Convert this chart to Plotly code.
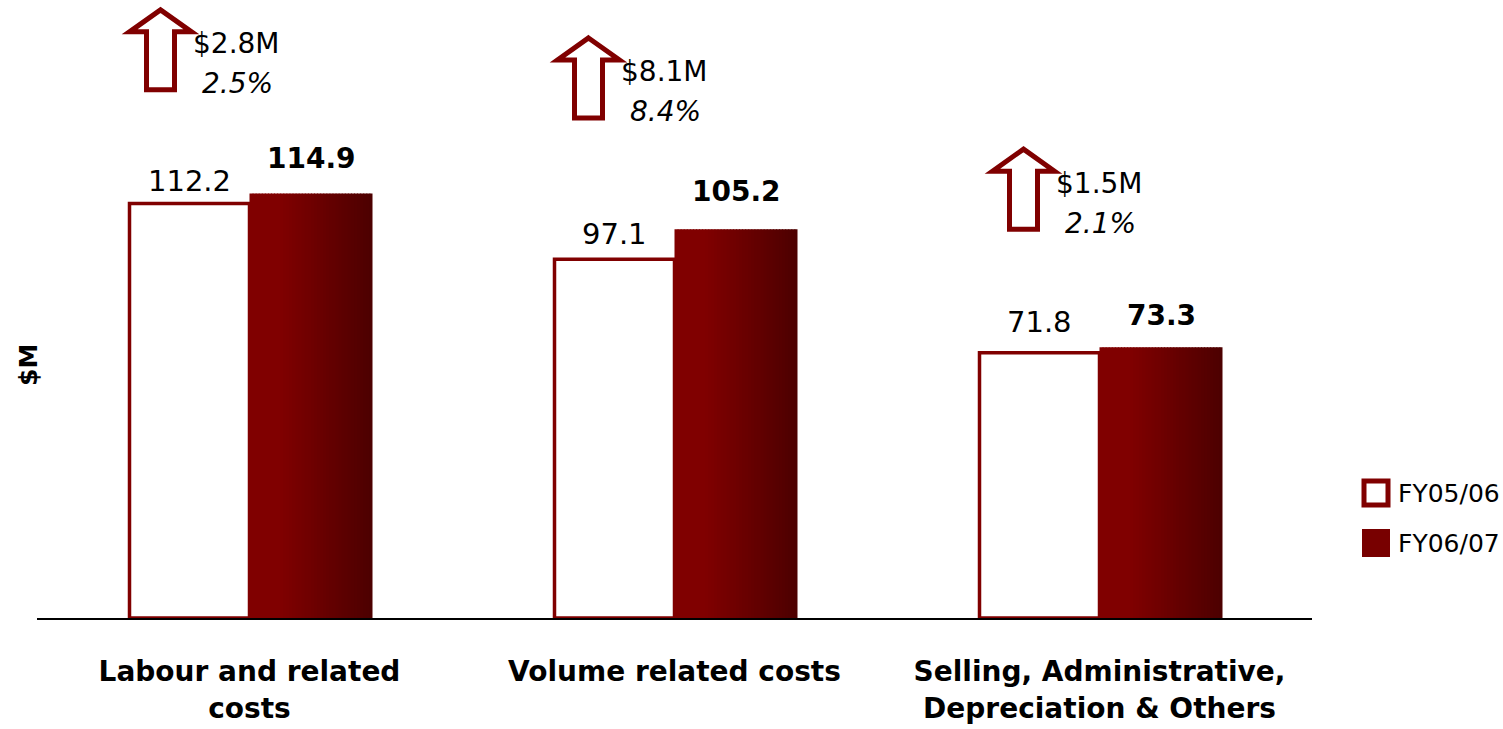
import plotly.graph_objects as go

# ---- data -------------------------------------------------------------
categories = [
    "Labour and related<br>costs",
    "Volume related costs",
    "Selling, Administrative,<br>Depreciation & Others",
]
series_names = ["FY05/06", "FY06/07"]
fy0506 = [112.2, 97.1, 71.8]
fy0607 = [114.9, 105.2, 73.3]
change_amount = ["$2.8M", "$8.1M", "$1.5M"]
change_pct = ["2.5%", "8.4%", "2.1%"]

# ---- layout constants -------------------------------------------------
W, H = 1503, 729
M_L, M_R, M_T, M_B = 37, 191, 0, 111
PLOT_W = W - M_L - M_R
PLOT_H = H - M_T - M_B
PX_PER_UNIT = 3.695
CAT_PX = PLOT_W / len(categories)

FONT = "DejaVu Sans"
DARK_RED = "#800000"

W_PREV = 120 / CAT_PX          # bar widths in category units
W_CURR = 123 / CAT_PX

# label lift (px) above each bar, arrow placement per group
prev_lift = [3, 6, 12]
curr_lift = [16, 19, 13]
arrow_level = [165.4, 157.8, 127.7]   # height of arrow tip, in $M units
arrow_dx = [-89, -86, -76]           # px offset of arrow tip from group centre

x_idx = list(range(len(categories)))

fig = go.Figure()

# FY05/06: outlined white bars
fig.add_trace(go.Bar(
    x=x_idx, y=fy0506, name=series_names[0],
    width=W_PREV, offset=-W_PREV,
    marker=dict(color="white", line=dict(color=DARK_RED, width=3.5)),
    showlegend=False,
))

# FY06/07: filled bars with a left-to-right darkening gradient,
# built from thin slices of the same values
N_SLICES = 40
slice_w = W_CURR / N_SLICES


def shade(t):
    c0, c1 = (0x80, 0x00, 0x00), (0x4c, 0x00, 0x00)
    k = 0.0 if t < 0.25 else (t - 0.25) / 0.75
    r, g, b = (round(a + (b_ - a) * k) for a, b_ in zip(c0, c1))
    return f"rgb({r},{g},{b})"


for i in range(N_SLICES):
    t = (i + 0.5) / N_SLICES
    w = slice_w * (1.0 if i == N_SLICES - 1 else 1.3)
    fig.add_trace(go.Bar(
        x=x_idx, y=fy0607, name=series_names[1],
        width=w, offset=i * slice_w,
        marker=dict(color=shade(t), line=dict(width=0)),
        showlegend=False,
    ))

annotations = []
shapes = []

# value labels
for i in x_idx:
    annotations.append(dict(
        x=i, y=fy0506[i], xref="x", yref="y", text=f"{fy0506[i]:.1f}",
        showarrow=False, xanchor="center", yanchor="bottom",
        xshift=-60, yshift=prev_lift[i],
        font=dict(family=FONT, size=29, color="black"),
    ))
    annotations.append(dict(
        x=i, y=fy0607[i], xref="x", yref="y", text=f"<b>{fy0607[i]:.1f}</b>",
        showarrow=False, xanchor="center", yanchor="bottom",
        xshift=61.5, yshift=curr_lift[i],
        font=dict(family=FONT, size=28, color="black"),
    ))

# change arrows with amount and percentage
for i in x_idx:
    dx = arrow_dx[i]
    pts = [(0, -3), (31, -25), (14, -25), (14, -83), (-14, -83), (-14, -25), (-31, -25)]
    path = "M " + " L ".join(f"{dx + px},{py}" for px, py in pts) + " Z"
    shapes.append(dict(
        type="path", xref="x", yref="y",
        xsizemode="pixel", ysizemode="pixel",
        xanchor=i, yanchor=arrow_level[i],
        path=path, fillcolor="white",
        line=dict(color=DARK_RED, width=5),
    ))
    annotations.append(dict(
        x=i, y=arrow_level[i], xref="x", yref="y", text=change_amount[i],
        showarrow=False, xanchor="center", yanchor="middle",
        xshift=dx + 76, yshift=-37,
        font=dict(family=FONT, size=28, color="black"),
    ))
    annotations.append(dict(
        x=i, y=arrow_level[i], xref="x", yref="y", text=f"<i>{change_pct[i]}</i>",
        showarrow=False, xanchor="center", yanchor="middle",
        xshift=dx + 77, yshift=-77,
        font=dict(family=FONT, size=28, color="black"),
    ))

# y-axis title
annotations.append(dict(
    x=0, y=(PLOT_H - 365) / PLOT_H, xref="paper", yref="paper",
    xshift=-9, text="<b>$M</b>", textangle=-90, showarrow=False,
    xanchor="center", yanchor="middle",
    font=dict(family=FONT, size=25, color="black"),
))

# legend
legend_rows = [125, 75]  # px above the baseline
for k, name in enumerate(series_names):
    cy = legend_rows[k]
    if k == 0:
        shapes.append(dict(
            type="rect", xref="paper", yref="paper",
            xsizemode="pixel", ysizemode="pixel", xanchor=1, yanchor=0,
            x0=52, x1=76, y0=cy - 12, y1=cy + 12,
            fillcolor="white", line=dict(color=DARK_RED, width=5),
        ))
    else:
        shapes.append(dict(
            type="rect", xref="paper", yref="paper",
            xsizemode="pixel", ysizemode="pixel", xanchor=1, yanchor=0,
            x0=50, x1=78, y0=cy - 14, y1=cy + 14,
            fillcolor="#780000", line=dict(width=0),
        ))
    annotations.append(dict(
        x=1, y=0, xref="paper", yref="paper", xshift=84, yshift=cy,
        text=name, showarrow=False, xanchor="left", yanchor="middle",
        font=dict(family=FONT, size=25, color="black"),
    ))

fig.update_layout(
    width=W, height=H,
    margin=dict(l=M_L, r=M_R, t=M_T, b=M_B),
    paper_bgcolor="white", plot_bgcolor="white",
    barmode="overlay",
    showlegend=False,
    font=dict(family=FONT, color="black"),
    annotations=annotations,
    shapes=shapes,
    xaxis=dict(
        tickmode="array", tickvals=x_idx, ticktext=categories,
        range=[-0.5, len(categories) - 0.5],
        showline=True, linecolor="black", linewidth=1.5,
        ticks="", showgrid=False, zeroline=False,
        tickfont=dict(family=FONT, size=28, color="black", weight="bold"),
        ticklabelstandoff=28,
    ),
    yaxis=dict(
        range=[0, PLOT_H / PX_PER_UNIT],
        showline=False, showgrid=False, zeroline=False,
        showticklabels=False, ticks="",
    ),
)

fig.write_html("out.html")
